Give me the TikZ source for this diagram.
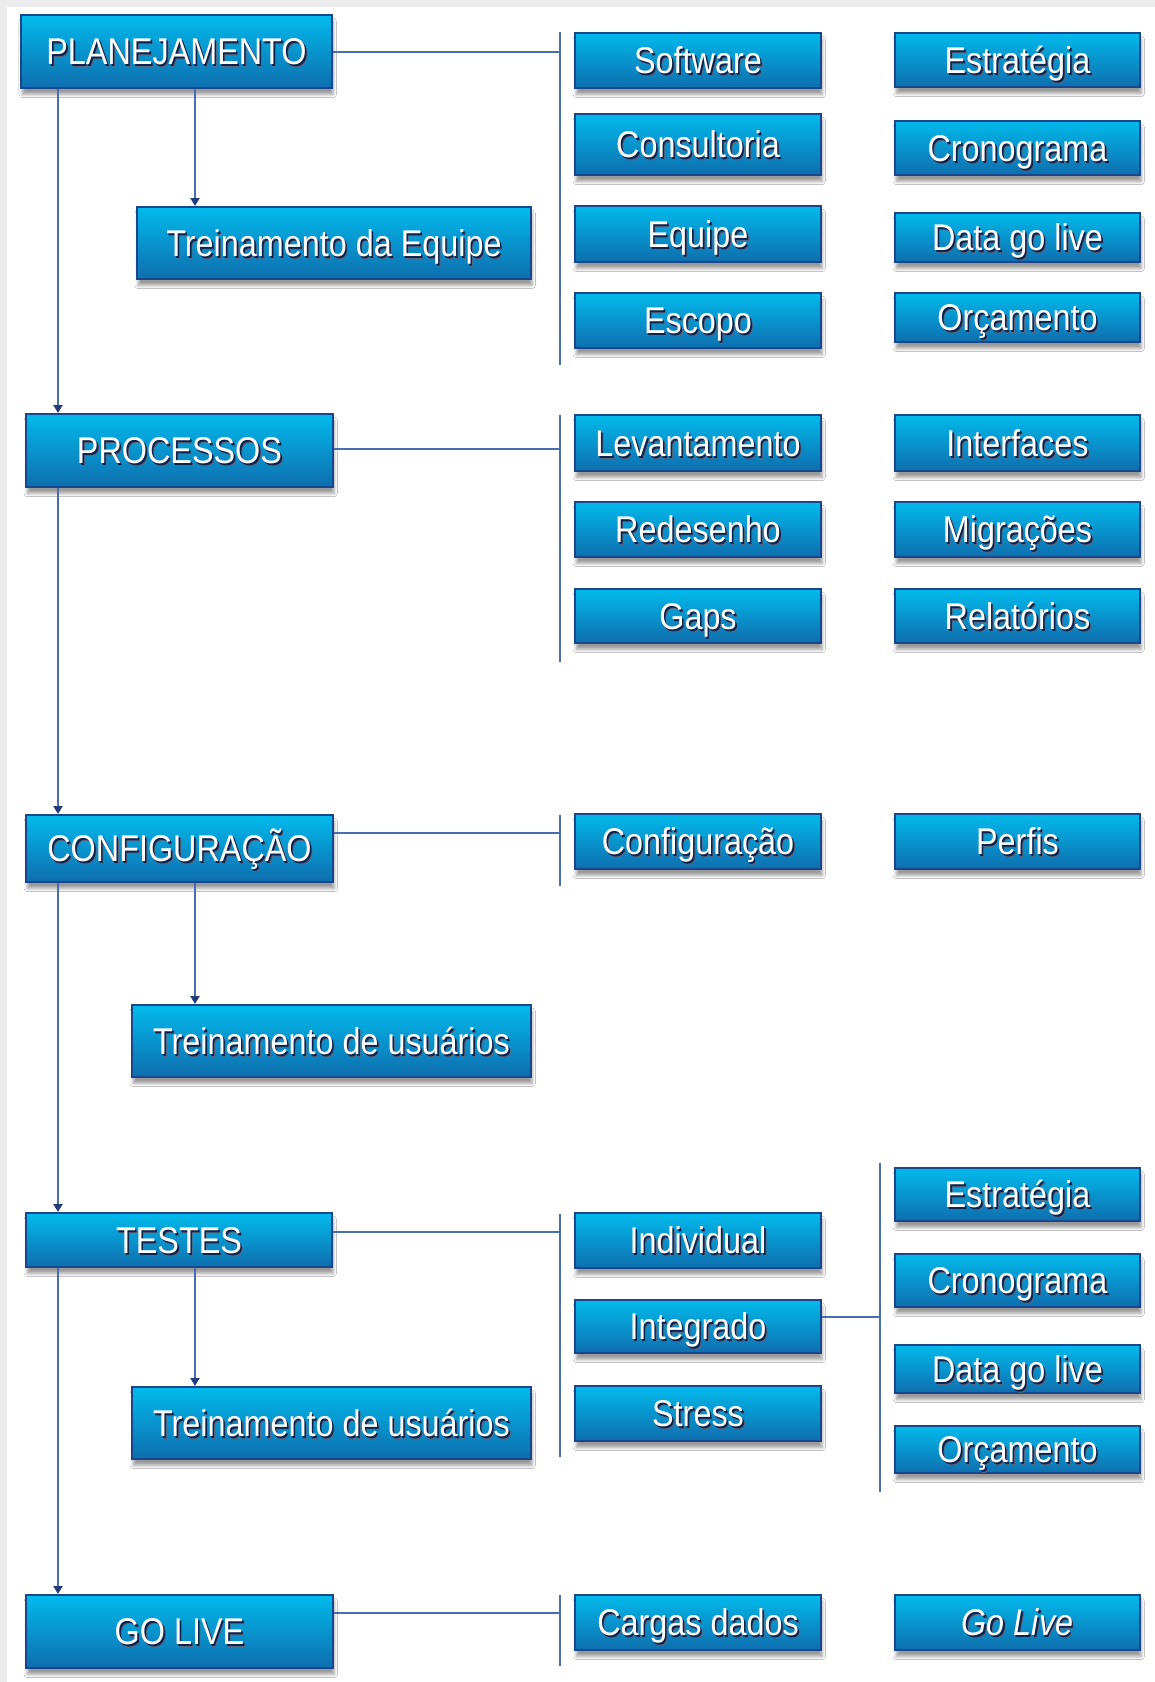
\documentclass[tikz,border=0pt]{standalone}
\usepackage{fontspec}
\setmainfont{Liberation Sans}[FakeStretch=0.87]
\usetikzlibrary{arrows.meta,shadows.blur}

\definecolor{boxtop}{RGB}{2,186,236}
\definecolor{boxbot}{RGB}{14,110,174}
\definecolor{boxedge}{RGB}{26,70,142}
\definecolor{linkc}{RGB}{74,108,176}
\definecolor{tipc}{RGB}{34,60,126}
\definecolor{txtsh}{RGB}{12,36,78}
\definecolor{framec}{RGB}{236,236,236}

% white label with a dark drop shadow behind it
\newcommand\shtext[1]{\leavevmode
  \rlap{\kern1.2pt\raisebox{-1.4pt}{\textcolor{txtsh!70!white}{#1}}}%
  \rlap{\kern0.8pt\raisebox{-1pt}{\textcolor{txtsh}{#1}}}#1}

% box given by its corners (x1,y1)-(x2,y2) in pixel units
\newcommand\cbox[7][]{%
  \pgfmathsetmacro\tbX{(#3+#5)/2}%
  \pgfmathsetmacro\tbY{(#4+#6)/2}%
  \pgfmathsetmacro\tbW{(#5-#3)*0.5}%
  \pgfmathsetmacro\tbH{(#6-#4)*0.5}%
  \node[tile,minimum width=\tbW pt,minimum height=\tbH pt,#1] (#2) at (\tbX,\tbY) {\shtext{#7}};}

\tikzset{
  tile/.style={draw=boxedge, line width=1pt, top color=boxtop, bottom color=boxbot,
    text=white, inner sep=0pt, font=\fontsize{18.6}{20}\selectfont,
    text height=13.3pt, text depth=0pt,
    blur shadow={shadow xshift=0.6pt, shadow yshift=-3.2pt, shadow blur radius=1.6pt, shadow opacity=40}},
  link/.style={draw=linkc, line width=1pt},
  flow/.style={link, -{Triangle[width=4.5pt,length=4pt,color=tipc]}}
}

\begin{document}
\begin{tikzpicture}[x=0.5pt,y=-0.5pt]
\fill[white] (0,0) rectangle (1155,1682);
\fill[framec] (0,0) rectangle (1155,7);
\fill[framec] (0,0) rectangle (7,1682);
\useasboundingbox (0,0) rectangle (1155,1682);

% phases
\cbox{plan}{21}{15}{332}{88}{PLANEJAMENTO}
\cbox{treq}{137}{207}{531}{279}{Treinamento da Equipe}
\cbox{proc}{26}{414}{333}{487}{PROCESSOS}
\cbox{conf}{26}{815}{333}{882}{CONFIGURAÇÃO}
\cbox{tru1}{132}{1005}{531}{1077}{Treinamento de usuários}
\cbox{test}{26}{1213}{332}{1267}{TESTES}
\cbox{tru2}{132}{1387}{531}{1459}{Treinamento de usuários}
\cbox{golv}{26}{1595}{333}{1668}{GO LIVE}

% first column of tasks
\cbox{soft}{575}{33}{821}{88}{Software}
\cbox{cons}{575}{114}{821}{175}{Consultoria}
\cbox{equi}{575}{206}{821}{262}{Equipe}
\cbox{esco}{575}{293}{821}{348}{Escopo}
\cbox{leva}{575}{415}{821}{471}{Levantamento}
\cbox{rede}{575}{502}{821}{557}{Redesenho}
\cbox{gaps}{575}{589}{821}{643}{Gaps}
\cbox{cfg}{575}{814}{821}{869}{Configuração}
\cbox{indi}{575}{1213}{821}{1268}{Individual}
\cbox{integ}{575}{1300}{821}{1353}{Integrado}
\cbox{stre}{575}{1386}{821}{1441}{Stress}
\cbox{carg}{575}{1595}{821}{1650}{Cargas dados}

% second column of tasks
\cbox{estrA}{895}{33}{1140}{87}{Estratégia}
\cbox{cronA}{895}{121}{1140}{175}{Cronograma}
\cbox{dataA}{895}{213}{1140}{262}{Data go live}
\cbox{orcA}{895}{293}{1140}{342}{Orçamento}
\cbox{intf}{895}{415}{1140}{471}{Interfaces}
\cbox{migr}{895}{502}{1140}{557}{Migrações}
\cbox{rela}{895}{589}{1140}{643}{Relatórios}
\cbox{perf}{895}{814}{1140}{869}{Perfis}
\cbox{estrB}{895}{1168}{1140}{1221}{Estratégia}
\cbox{cronB}{895}{1254}{1140}{1307}{Cronograma}
\cbox{dataB}{895}{1345}{1140}{1393}{Data go live}
\cbox{orcB}{895}{1426}{1140}{1473}{Orçamento}
\cbox{golB}{895}{1595}{1140}{1650}{\itshape Go Live}

% main flow down the left side
\coordinate (spine) at (58,0);
\coordinate (sub) at (195,0);
\draw[flow] (plan.south -| spine) -- (proc.north -| spine);
\draw[flow] (proc.south -| spine) -- (conf.north -| spine);
\draw[flow] (conf.south -| spine) -- (test.north -| spine);
\draw[flow] (test.south -| spine) -- (golv.north -| spine);
\draw[flow] (plan.south -| sub) -- (treq.north -| sub);
\draw[flow] (conf.south -| sub) -- (tru1.north -| sub);
\draw[flow] (test.south -| sub) -- (tru2.north -| sub);

% brackets gathering the tasks of each phase
\coordinate (b1a) at (560,32);   \coordinate (b1b) at (560,365);
\coordinate (b2a) at (560,415);  \coordinate (b2b) at (560,662);
\coordinate (b3a) at (560,815);  \coordinate (b3b) at (560,886);
\coordinate (b4a) at (560,1214); \coordinate (b4b) at (560,1457);
\coordinate (b5a) at (560,1595); \coordinate (b5b) at (560,1666);
\coordinate (b6a) at (880,1163); \coordinate (b6b) at (880,1492);
\foreach \i in {1,...,6} \draw[link] (b\i a) -- (b\i b);

\coordinate (h1) at (560,52);
\coordinate (h2) at (560,449);
\coordinate (h3) at (560,833);
\coordinate (h4) at (560,1232);
\coordinate (h5) at (560,1613);
\coordinate (h6) at (880,1317);
\draw[link] (plan.east |- h1) -- (h1);
\draw[link] (proc.east |- h2) -- (h2);
\draw[link] (conf.east |- h3) -- (h3);
\draw[link] (test.east |- h4) -- (h4);
\draw[link] (golv.east |- h5) -- (h5);
\draw[link] (integ.east |- h6) -- (h6);
\end{tikzpicture}
\end{document}
